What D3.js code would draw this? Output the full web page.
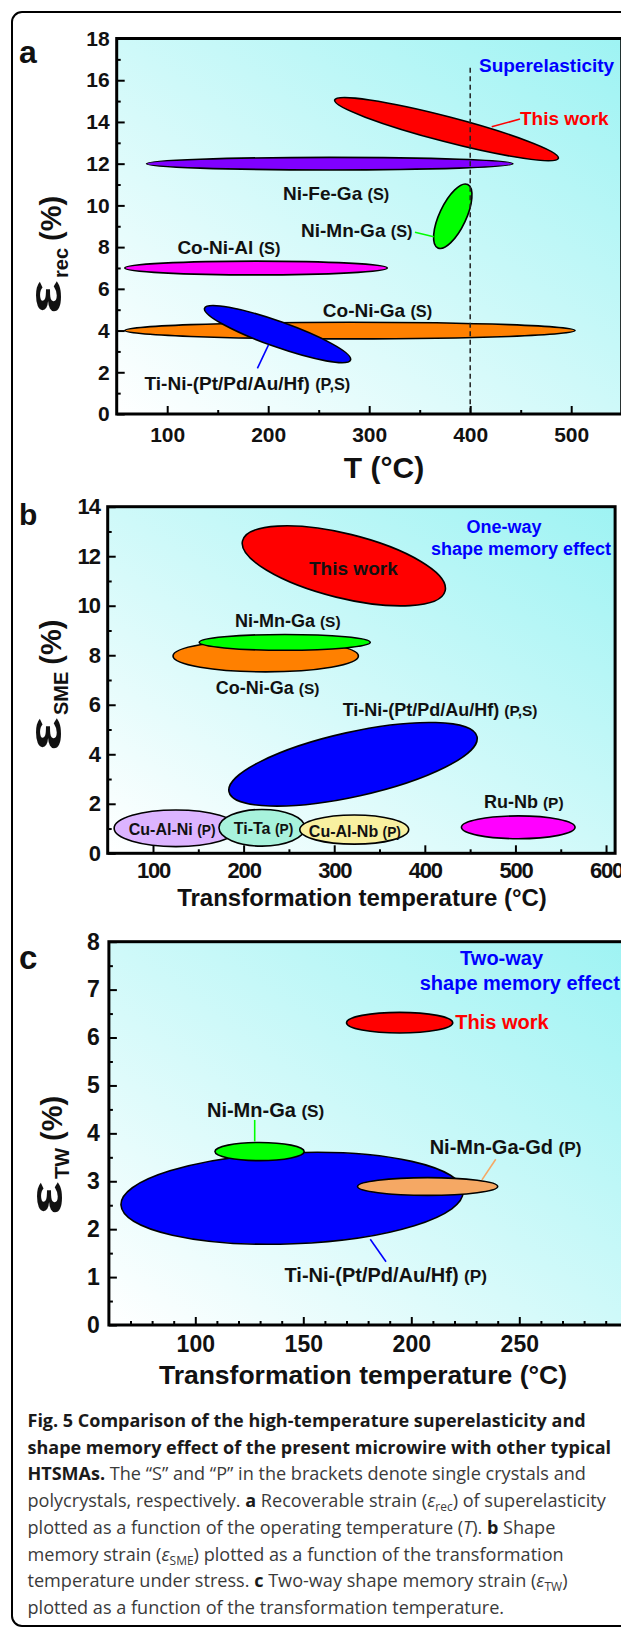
<!DOCTYPE html>
<html>
<head>
<meta charset="utf-8">
<script src="https://cdn.jsdelivr.net/npm/d3@7/dist/d3.min.js"></script>
<style>
body { margin: 0; background: #fff; }
</style>
</head>
<body>
<div id="fig"></div>
<script>
// ---- panel a : superelasticity (T in C, eps_rec in %) ----
var aNames = ["Co-Ni-Ga", "Ti-Ni-(Pt/Pd/Au/Hf)", "Ni-Fe-Ga", "Co-Ni-Al", "Ni-Mn-Ga", "This work"];
var aT1 = [58, 137, 79.5, 58, 368, 265.8];
var aE1 = [4.0, 5.07, 12.0, 7.0, 7.96, 15.05];
var aT2 = [503.8, 281.5, 442.3, 317.9, 397.5, 487.3];
var aE2 = [4.0, 2.59, 12.0, 7.0, 11.0, 12.26];
var aW  = [0.4, 0.61, 0.3, 0.33, 0.64, 0.6];
var aFill = ["#ff8000", "#0000ff", "#8000ff", "#ff00ff", "#00ff00", "#ff0000"];
var aXTicks = [100, 200, 300, 400, 500];
var aYTicks = [0, 2, 4, 6, 8, 10, 12, 14, 16, 18];

// ---- panel b : one-way shape memory effect ----
var bNames = ["Co-Ni-Ga", "Ni-Mn-Ga", "This work", "Ti-Ni-(Pt/Pd/Au/Hf)", "Cu-Al-Ni", "Ti-Ta", "Cu-Al-Nb", "Ru-Nb"];
var bT1 = [122.1, 151, 198.8, 183.9, 57.1, 172.8, 262, 440.4];
var bE1 = [7.97, 8.52, 12.62, 2.48, 1.01, 1.03, 0.96, 1.05];
var bT2 = [326.7, 339.8, 422.4, 457.6, 193.5, 267.7, 382.2, 565.8];
var bE2 = [7.97, 8.52, 10.6, 4.71, 1.01, 1.03, 0.96, 1.05];
var bW  = [0.64, 0.32, 1.30, 1.30, 0.74, 0.74, 0.59, 0.46];
var bFill = ["#ff8000", "#00ff00", "#ff0000", "#0000ff", "#dcb4ff", "#a8f2dc", "#f8f0a0", "#ff00ff"];
var bXTicks = [100, 200, 300, 400, 500, 600];
var bYTicks = [0, 2, 4, 6, 8, 10, 12, 14];

// ---- panel c : two-way shape memory effect ----
var cNames = ["Ti-Ni-(Pt/Pd/Au/Hf)", "Ni-Mn-Ga", "Ni-Mn-Ga-Gd", "This work"];
var cT1 = [65.6, 109.1, 175.1, 170];
var cE1 = [2.505, 3.62, 2.89, 6.31];
var cT2 = [224, 150.4, 240, 219.2];
var cE2 = [2.785, 3.62, 2.89, 6.31];
var cW  = [0.95, 0.19, 0.185, 0.215];
var cFill = ["#0000ff", "#00ff00", "#f5a864", "#ff0000"];
var cXTicks = [100, 150, 200, 250];
var cYTicks = [0, 1, 2, 3, 4, 5, 6, 7, 8];

// annotations: [text, tag, T, eps, size]
var aLabels = [["Ni-Fe-Ga", "(S)", 214.7, 10.26, 19], ["Ni-Mn-Ga", "(S)", 232.5, 8.49, 19],
               ["Co-Ni-Al", "(S)", 110.1, 7.67, 19], ["Co-Ni-Ga", "(S)", 254.1, 4.65, 19],
               ["Ti-Ni-(Pt/Pd/Au/Hf)", "(P,S)", 77.6, 1.15, 19]];
var aLeaders = [[449.3, 14.14, 421.3, 13.77, "#ff0000"], [345.3, 8.71, 363.9, 8.5, "#00ff00"],
                [189.3, 2.19, 200.3, 3.31, "#0000ff"]];
var bLabels = [["Ni-Mn-Ga", "(S)", 190.4, 9.14, 18], ["Co-Ni-Ga", "(S)", 169.3, 6.43, 18],
               ["Ti-Ni-(Pt/Pd/Au/Hf)", "(P,S)", 309.3, 5.55, 18], ["Ru-Nb", "(P)", 465.3, 1.83, 18],
               ["Cu-Al-Ni", "(P)", 73.2, 0.72, 16], ["Ti-Ta", "(P)", 189.1, 0.76, 16], ["Cu-Al-Nb", "(P)", 272, 0.64, 16]];
var cLabels = [["Ni-Mn-Ga", "(S)", 105.4, 4.34, 20], ["Ni-Mn-Ga-Gd", "(P)", 208.5, 3.57, 20],
               ["Ti-Ni-(Pt/Pd/Au/Hf)", "(P)", 141.3, 0.90, 20]];
var cLeaders = [[127.5, 4.28, 127.5, 3.83, "#00ff00"], [239.1, 3.46, 232.7, 3.03, "#f5a864"],
                [181, 1.79, 188.3, 1.32, "#0000ff"]];

var W = 621, H = 1629;
var svg = d3.select("#fig").append("svg")
    .attr("width", W)
    .attr("height", H)
    .style("font-family", "'Liberation Sans', Arial, sans-serif");

var grad = svg.append("defs").append("linearGradient")
    .attr("id", "bg")
    .attr("x1", 0).attr("y1", 1).attr("x2", 1).attr("y2", 0);
grad.append("stop").attr("offset", 0).attr("stop-color", "#ffffff");
grad.append("stop").attr("offset", 1).attr("stop-color", "#9ef3f3");

// outer frame
svg.append("rect")
    .attr("x", 12).attr("y", 12)
    .attr("width", 720).attr("height", 1614)
    .attr("rx", 10)
    .style("fill", "none").style("stroke", "#000").style("stroke-width", 2);

function panel(p) {
    var x = d3.scaleLinear().domain(p.xd).range(p.xr);
    var y = d3.scaleLinear().domain(p.yd).range(p.yr);
    var g = svg.append("g");

    g.append("rect")
        .attr("x", p.xr[0]).attr("y", p.yr[1])
        .attr("width", p.xr[1] - p.xr[0]).attr("height", p.yr[0] - p.yr[1])
        .style("fill", "url(#bg)");

    // ellipses, from the two tips and the half spread in strain
    for (var i = 0; i < p.t1.length; i++) {
        var x1 = x(p.t1[i]), y1 = y(p.e1[i]), x2 = x(p.t2[i]), y2 = y(p.e2[i]);
        var rx = Math.hypot(x2 - x1, y2 - y1) / 2;
        var ry = y(0) - y(p.w[i]);
        var ang = Math.atan2(y2 - y1, x2 - x1) * 180 / Math.PI;
        g.append("ellipse")
            .attr("rx", rx).attr("ry", ry)
            .attr("transform", "translate(" + (x1 + x2) / 2 + "," + (y1 + y2) / 2 + ") rotate(" + ang + ")")
            .style("fill", p.fill[i])
            .style("stroke", "#000")
            .style("stroke-width", 1.6);
    }

    (p.leaders || []).forEach(function(d) {
        g.append("line")
            .attr("x1", x(d[0])).attr("y1", y(d[1]))
            .attr("x2", x(d[2])).attr("y2", y(d[3]))
            .style("stroke", d[4]).style("stroke-width", 1.6);
    });

    p.labels.forEach(function(d) {
        var t = g.append("text")
            .attr("x", x(d[2])).attr("y", y(d[3]))
            .style("font-weight", "bold")
            .style("font-size", d[4] + "px")
            .style("fill", "#111");
        t.append("tspan").text(d[0] + " ");
        t.append("tspan").style("font-size", (d[4] * 0.86) + "px").text(d[1]);
    });

    // axes, ticks pointing inward
    g.append("g").attr("transform", "translate(0," + p.yr[0] + ")")
        .call(d3.axisBottom(x).tickValues(p.xt).tickSize(-8).tickPadding(p.xpad).tickFormat(d3.format("d")));
    g.append("g").attr("transform", "translate(0," + p.yr[0] + ")")
        .call(d3.axisBottom(x).tickValues(p.xm).tickSize(-4).tickFormat(""));
    g.append("g").attr("transform", "translate(" + p.xr[0] + ",0)")
        .call(d3.axisLeft(y).tickValues(p.yt).tickSize(-8).tickPadding(p.ypad).tickFormat(d3.format("d")));
    g.append("g").attr("transform", "translate(" + p.xr[0] + ",0)")
        .call(d3.axisLeft(y).tickValues(p.ym).tickSize(-4).tickFormat(""));
    g.selectAll(".domain").remove();
    g.selectAll(".tick line").style("stroke", "#000").style("stroke-width", 2);
    g.selectAll(".tick text")
        .style("font-family", "'Liberation Sans', Arial, sans-serif")
        .style("font-weight", "bold")
        .style("font-size", p.tick + "px")
        .style("letter-spacing", p.ls + "px")
        .style("fill", "#111");

    g.append("rect")
        .attr("x", p.xr[0]).attr("y", p.yr[1])
        .attr("width", p.xr[1] - p.xr[0]).attr("height", p.yr[0] - p.yr[1])
        .style("fill", "none").style("stroke", "#000").style("stroke-width", 3);

    return {x: x, y: y, g: g};
}

// rotated y title: big epsilon, subscript, (%)
function yTitle(x0, y0, sub) {
    var g = svg.append("g")
        .attr("transform", "translate(" + x0 + "," + y0 + ") rotate(-90)")
        .style("font-weight", "bold").style("fill", "#111");
    g.append("text").attr("x", 0).attr("y", 0)
        .attr("textLength", 34).attr("lengthAdjust", "spacingAndGlyphs")
        .style("font-size", "46px").text("\u03b5");
    var s = g.append("text").attr("x", 36).attr("y", 7)
        .style("font-size", "20px").text(sub);
    var len = s.node().getComputedTextLength();
    g.append("text").attr("x", 36 + len + 7).attr("y", 0)
        .style("font-size", "29px").text("(%)");
}

function xTitle(cx, yb, size, txt) {
    svg.append("text")
        .attr("x", cx).attr("y", yb)
        .attr("text-anchor", "middle")
        .style("font-weight", "bold").style("font-size", size + "px").style("fill", "#111")
        .text(txt);
}

function note(pp, T, e, size, col, txt) {
    pp.g.append("text").attr("x", pp.x(T)).attr("y", pp.y(e))
        .style("font-weight", "bold").style("font-size", size + "px").style("fill", col).text(txt);
}

function letter(x0, yb, size, s) {
    svg.append("text").attr("x", x0).attr("y", yb)
        .style("font-weight", "bold").style("font-size", size + "px").style("fill", "#111")
        .text(s);
}

// ---- panel a ----
var pa = panel({
    xd: [50, 550], xr: [116.7, 621.7], yd: [0, 18], yr: [414, 38.5],
    t1: aT1, e1: aE1, t2: aT2, e2: aE2, w: aW, fill: aFill,
    labels: aLabels, leaders: aLeaders,
    xt: aXTicks, xm: [150, 250, 350, 450], yt: aYTicks, ym: d3.range(1, 18, 2),
    xpad: 13, ypad: 7, tick: 21, ls: 0
});
pa.g.insert("line", "line")
    .attr("x1", pa.x(400)).attr("x2", pa.x(400))
    .attr("y1", pa.y(16.6)).attr("y2", pa.y(0))
    .style("stroke", "#222").style("stroke-width", 1.5).style("stroke-dasharray", "5,3.5");
note(pa, 408.7, 16.39, 19, "#0000ff", "Superelasticity");
note(pa, 449.3, 13.85, 19, "#ff0000", "This work");
yTitle(61, 314, "rec");
xTitle(384, 478, 30, "T (\u00b0C)");
letter(19, 63, 32, "a");

// ---- panel b ----
var pb = panel({
    xd: [50, 610], xr: [107.7, 615.1], yd: [0, 14], yr: [853.3, 506.7],
    t1: bT1, e1: bE1, t2: bT2, e2: bE2, w: bW, fill: bFill,
    labels: bLabels,
    xt: bXTicks, xm: [150, 250, 350, 450, 550], yt: bYTicks, ym: d3.range(1, 14, 2),
    xpad: 9, ypad: 8, tick: 22, ls: -1.2
});
note(pb, 272.2, 11.24, 19, "#111", "This work");
note(pb, 446, 12.94, 18, "#0000ff", "One-way");
note(pb, 406.7, 12.05, 18, "#0000ff", "shape memory effect");
yTitle(61, 751, "SME");
xTitle(362, 906, 24, "Transformation temperature (\u00b0C)");
letter(19, 525, 30, "b");

// ---- panel c ----
var pc = panel({
    xd: [60, 300], xr: [108.9, 627.3], yd: [0, 8], yr: [1325, 941.7],
    t1: cT1, e1: cE1, t2: cT2, e2: cE2, w: cW, fill: cFill,
    labels: cLabels, leaders: cLeaders,
    xt: cXTicks, xm: d3.range(70, 300, 10).filter(function(v) { return v % 50 !== 0; }),
    yt: cYTicks, ym: d3.range(0.5, 8, 1),
    xpad: 10.5, ypad: 9, tick: 23, ls: 0
});
note(pc, 220.4, 6.18, 20, "#ff0000", "This work");
note(pc, 222.6, 7.52, 20, "#0000ff", "Two-way");
note(pc, 203.9, 6.99, 20, "#0000ff", "shape memory effect");
yTitle(62, 1215, "TW");
xTitle(363, 1384, 26.5, "Transformation temperature (\u00b0C)");
letter(19, 969, 33, "c");

// ---- caption ----
var caption = [
    [["Fig. 5 Comparison of the high-temperature superelasticity and", "b"]],
    [["shape memory effect of the present microwire with other typical", "b"]],
    [["HTSMAs.", "b"], [" The \u201cS\u201d and \u201cP\u201d in the brackets denote single crystals and", "n"]],
    [["polycrystals, respectively. ", "n"], ["a", "b"], [" Recoverable strain (", "n"], ["\u03b5", "i"], ["rec", "sub"], [") of superelasticity", "n"]],
    [["plotted as a function of the operating temperature (", "n"], ["T", "i"], ["). ", "n"], ["b", "b"], [" Shape", "n"]],
    [["memory strain (", "n"], ["\u03b5", "i"], ["SME", "sub"], [") plotted as a function of the transformation", "n"]],
    [["temperature under stress. ", "n"], ["c", "b"], [" Two-way shape memory strain (", "n"], ["\u03b5", "i"], ["TW", "sub"], [")", "n"]],
    [["plotted as a function of the transformation temperature.", "n"]]
];
var cap = svg.append("g").style("font-family", "'Open Sans', 'Noto Sans', sans-serif").style("font-size", "18.1px");
caption.forEach(function(line, i) {
    var t = cap.append("text").attr("x", 27.5).attr("y", 1427 + i * 26.7);
    var shifted = false;
    line.forEach(function(s) {
        var ts = t.append("tspan").text(s[0]);
        if (s[1] === "b") ts.style("font-weight", "bold").style("font-size", "18px").style("fill", "#1a1a1a");
        else ts.style("fill", "#3a3a3a");
        if (s[1] === "i") ts.style("font-style", "italic");
        if (s[1] === "sub") { ts.attr("dy", 4).style("font-size", "12px"); shifted = true; }
        else if (shifted) { ts.attr("dy", -4); shifted = false; }
    });
});
</script>
</body>
</html>
